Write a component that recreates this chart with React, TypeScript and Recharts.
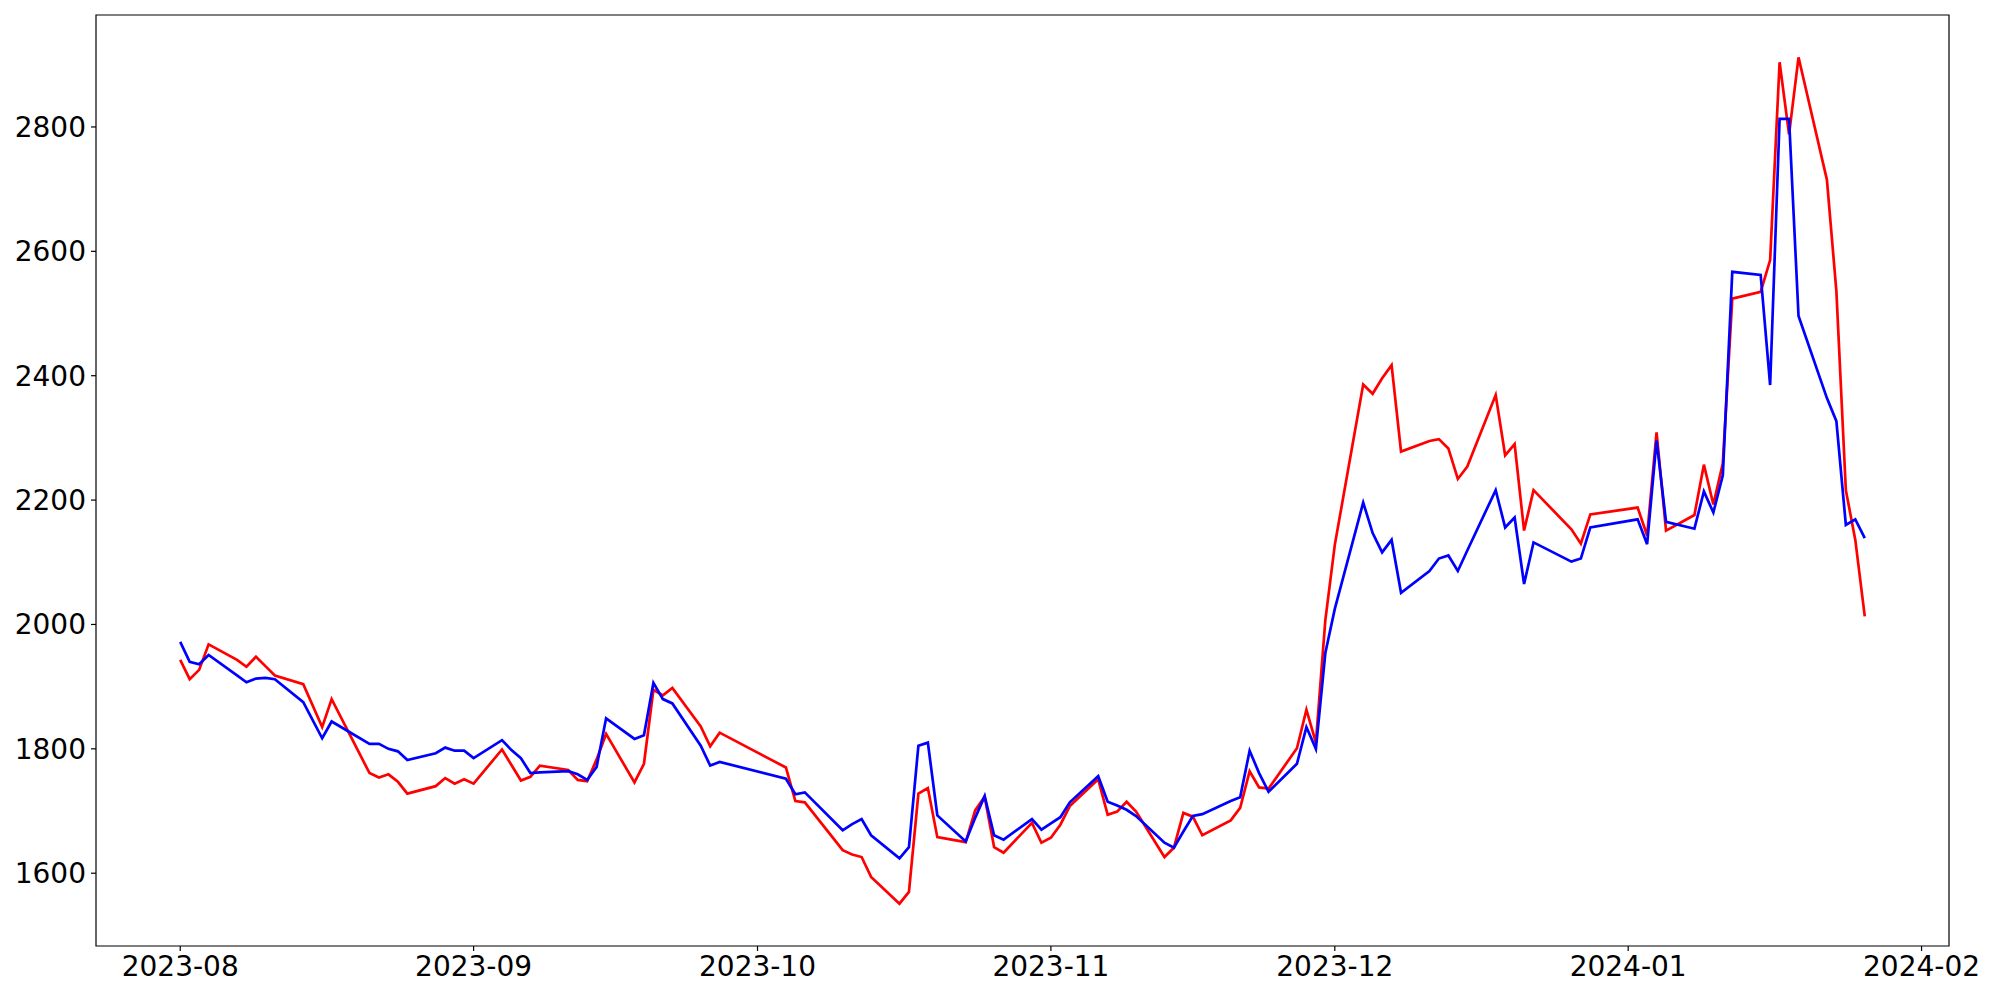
import { LineChart, Line, XAxis, YAxis, ReferenceArea } from "recharts";

const DATES = [
  "2023-08-01", "2023-08-02", "2023-08-03", "2023-08-04", "2023-08-07", "2023-08-08", "2023-08-09", "2023-08-10",
  "2023-08-11", "2023-08-14", "2023-08-16", "2023-08-17", "2023-08-21", "2023-08-22", "2023-08-23", "2023-08-24",
  "2023-08-25", "2023-08-28", "2023-08-29", "2023-08-30", "2023-08-31", "2023-09-01", "2023-09-04", "2023-09-05",
  "2023-09-06", "2023-09-07", "2023-09-08", "2023-09-11", "2023-09-12", "2023-09-13", "2023-09-14", "2023-09-15",
  "2023-09-18", "2023-09-19", "2023-09-20", "2023-09-21", "2023-09-22", "2023-09-25", "2023-09-26", "2023-09-27",
  "2023-10-04", "2023-10-05", "2023-10-06", "2023-10-10", "2023-10-11", "2023-10-12", "2023-10-13", "2023-10-16",
  "2023-10-17", "2023-10-18", "2023-10-19", "2023-10-20", "2023-10-23", "2023-10-24", "2023-10-25", "2023-10-26",
  "2023-10-27", "2023-10-30", "2023-10-31", "2023-11-01", "2023-11-02", "2023-11-03", "2023-11-06", "2023-11-07",
  "2023-11-08", "2023-11-09", "2023-11-10", "2023-11-13", "2023-11-14", "2023-11-15", "2023-11-16", "2023-11-17",
  "2023-11-20", "2023-11-21", "2023-11-22", "2023-11-23", "2023-11-24", "2023-11-27", "2023-11-28", "2023-11-29",
  "2023-11-30", "2023-12-01", "2023-12-04", "2023-12-05", "2023-12-06", "2023-12-07", "2023-12-08", "2023-12-11",
  "2023-12-12", "2023-12-13", "2023-12-14", "2023-12-15", "2023-12-18", "2023-12-19", "2023-12-20", "2023-12-21",
  "2023-12-22", "2023-12-26", "2023-12-27", "2023-12-28", "2024-01-02", "2024-01-03", "2024-01-04", "2024-01-05",
  "2024-01-08", "2024-01-09", "2024-01-10", "2024-01-11", "2024-01-12", "2024-01-15", "2024-01-16", "2024-01-17",
  "2024-01-18", "2024-01-19", "2024-01-22", "2024-01-23", "2024-01-24", "2024-01-25", "2024-01-26",
];

const RED_VALUES = [
  1943, 1912, 1927, 1968, 1943, 1932, 1948, 1933,
  1918, 1904, 1835, 1880, 1761, 1754, 1759, 1747,
  1728, 1740, 1753, 1744, 1751, 1744, 1799, 1774,
  1749, 1755, 1773, 1766, 1750, 1748, 1783, 1824,
  1746, 1776, 1895, 1886, 1898, 1836, 1804, 1826,
  1770, 1716, 1714, 1637, 1630, 1626, 1594, 1551,
  1570, 1728, 1737, 1658, 1650, 1701, 1723, 1642,
  1633, 1681, 1649, 1657, 1678, 1708, 1751, 1694,
  1699, 1715, 1699, 1626, 1641, 1697, 1691, 1661,
  1685, 1705, 1764, 1738, 1736, 1801, 1863, 1810,
  2007, 2128, 2386, 2371, 2396, 2417, 2278, 2295,
  2298, 2283, 2234, 2254, 2369, 2272, 2290, 2151,
  2216, 2153, 2130, 2177, 2188, 2143, 2309, 2151,
  2176, 2257, 2193, 2259, 2524, 2535, 2586, 2904,
  2788, 2912, 2715, 2536, 2216, 2136, 2013,
];

const BLUE_VALUES = [
  1972, 1940, 1936, 1951, 1918, 1907, 1913, 1914,
  1912, 1875, 1817, 1844, 1808, 1808, 1800, 1796,
  1782, 1793, 1802, 1797, 1797, 1785, 1814, 1798,
  1785, 1761, 1762, 1764, 1759, 1750, 1771, 1849,
  1816, 1822, 1906, 1880, 1873, 1805, 1773, 1779,
  1752, 1727, 1730, 1669, 1679, 1687, 1661, 1624,
  1642, 1805, 1810, 1693, 1651, 1689, 1724, 1661,
  1654, 1687, 1670, 1680, 1690, 1714, 1756, 1715,
  1709, 1702, 1692, 1649, 1641, 1667, 1692, 1695,
  1716, 1722, 1797, 1761, 1731, 1776, 1835, 1800,
  1954, 2025, 2196, 2147, 2116, 2136, 2051, 2086,
  2106, 2111, 2086, 2119, 2216, 2156, 2172, 2065,
  2132, 2101, 2106, 2156, 2169, 2129, 2296, 2165,
  2154, 2214, 2180, 2240, 2567, 2562, 2385, 2813,
  2813, 2496, 2364, 2327, 2160, 2169, 2139,
];

const X_TICKS = ["2023-08-01", "2023-09-01", "2023-10-01", "2023-11-01", "2023-12-01", "2024-01-01", "2024-02-01"];
const Y_TICKS = [1600, 1800, 2000, 2200, 2400, 2600, 2800];

const RED = "#ff0000";
const BLUE = "#0000ff";
const FONT = "DejaVu Sans";

const data = DATES.map((d, i) => ({ t: Date.parse(d), red: RED_VALUES[i], blue: BLUE_VALUES[i] }));

// matplotlib-style 5% margins
const tMin = data[0].t;
const tMax = data[data.length - 1].t;
const tPad = (tMax - tMin) * 0.05;
const xDomain: [number, number] = [tMin - tPad, tMax + tPad];

const allVals = [...RED_VALUES, ...BLUE_VALUES];
const vMin = Math.min(...allVals);
const vMax = Math.max(...allVals);
const vPad = (vMax - vMin) * 0.05;
const yDomain: [number, number] = [vMin - vPad, vMax + vPad];

const fmtMonth = (t: number) => {
  const d = new Date(t);
  return `${d.getUTCFullYear()}-${String(d.getUTCMonth() + 1).padStart(2, "0")}`;
};

export default function App() {
  const tick = { fontSize: 28, fill: "#000", fontFamily: FONT };
  return (
    <div style={{ position: "absolute", left: 0, top: 0, width: 2000, height: 1000, background: "#fff" }}>
      <LineChart width={2000} height={1000} data={data} margin={{ top: 15, right: 51, bottom: 0, left: 0 }}>
        <XAxis
          dataKey="t"
          type="number"
          scale="linear"
          domain={xDomain}
          ticks={X_TICKS.map((d) => Date.parse(d))}
          tickFormatter={fmtMonth}
          allowDataOverflow
          height={54}
          tick={tick}
          tickSize={5}
          tickMargin={5}
          axisLine={false}
          tickLine={{ stroke: "#000", strokeWidth: 1.2 }}
        />
        <YAxis
          type="number"
          domain={yDomain}
          ticks={Y_TICKS}
          allowDataOverflow
          width={96}
          tick={tick}
          tickSize={5}
          tickMargin={5}
          axisLine={false}
          tickLine={{ stroke: "#000", strokeWidth: 1.2 }}
        />
        <ReferenceArea
          x1={xDomain[0]}
          x2={xDomain[1]}
          y1={yDomain[0]}
          y2={yDomain[1]}
          fill="none"
          stroke="#000"
          strokeOpacity={1}
          strokeWidth={1.2}
          fillOpacity={0}
        />
        <Line type="linear" dataKey="red" stroke={RED} strokeWidth={2.7} dot={false} isAnimationActive={false} />
        <Line type="linear" dataKey="blue" stroke={BLUE} strokeWidth={2.7} dot={false} isAnimationActive={false} />
      </LineChart>
    </div>
  );
}
